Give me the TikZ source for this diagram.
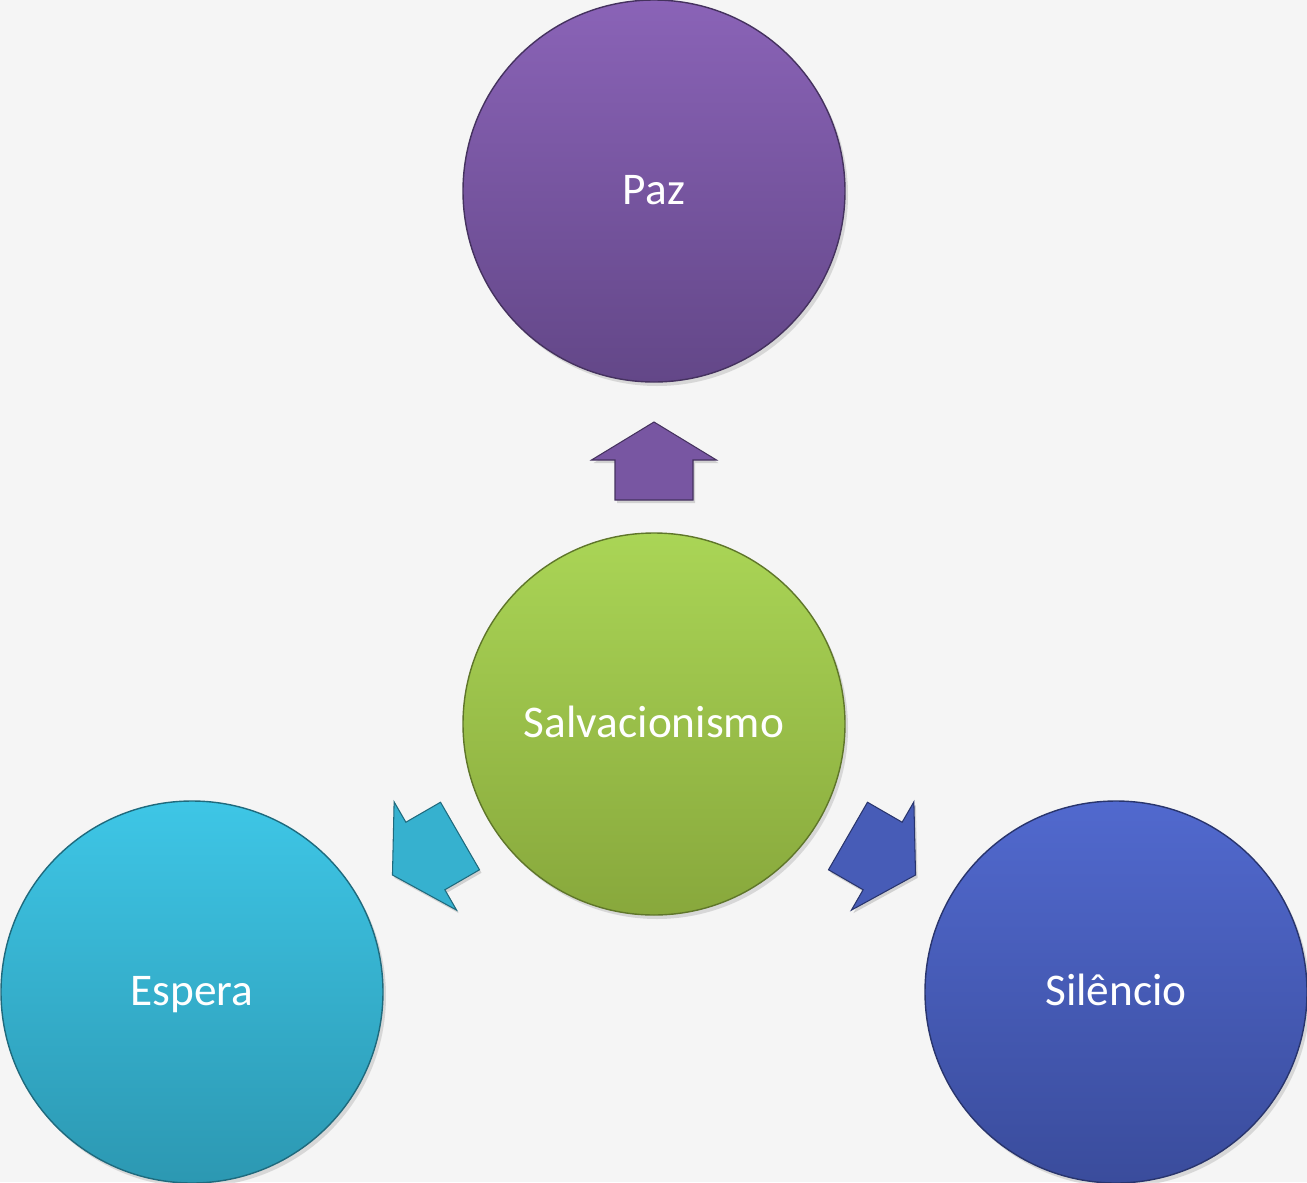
\documentclass[tikz,border=0pt]{standalone}
\usepackage{fontspec}
\setmainfont{Carlito}
\usetikzlibrary{shadows}
\definecolor{bg}{HTML}{F5F5F5}
\definecolor{pazT}{HTML}{8A63B7}
\definecolor{pazB}{HTML}{634788}
\definecolor{salT}{HTML}{AAD556}
\definecolor{salB}{HTML}{88A83C}
\definecolor{espT}{HTML}{3EC6E6}
\definecolor{espB}{HTML}{2C98B2}
\definecolor{silT}{HTML}{5169CE}
\definecolor{silB}{HTML}{3A4C9C}
\tikzset{
  bubble/.style={circle, minimum size=3.82cm, inner sep=0pt, draw=#1B!70!black, line width=0.4pt,
    top color=#1T, bottom color=#1B, text=white, font=\fontsize{12.9}{15}\selectfont,
    text height=1.9ex, text depth=0.35ex,
    drop shadow={shadow xshift=0.03cm, shadow yshift=-0.04cm, opacity=0.25}},
  blockarrow/.style={draw=#1B!70!black, line width=0.3pt, fill=#1T!55!#1B,
    drop shadow={shadow xshift=0.02cm, shadow yshift=-0.03cm, opacity=0.3}}
}
\begin{document}
\begin{tikzpicture}
\useasboundingbox (0,0) rectangle (13.07,11.82);
\fill[bg] (0,0) rectangle (13.07,11.82);
\begin{scope}
\clip (0,0) rectangle (13.07,11.82);
\node[bubble=paz] (paz) at (6.54,9.91) {Paz};
\node[bubble=sal] (sal) at (6.54,4.58) {Salvacionismo};
\node[bubble=esp] (esp) at (1.92,1.90) {Espera};
\node[bubble=sil] (sil) at (11.16,1.90) {Silêncio};
\end{scope}
\foreach \ang/\col in {90/paz, 210/esp, 330/sil}{
  \draw[blockarrow=\col, shift={(sal.center)}, rotate=\ang]
    (2.24,0.39) -- (2.64,0.39) -- (2.64,0.625) -- (3.02,0) -- (2.64,-0.625) -- (2.64,-0.39) -- (2.24,-0.39) -- cycle;
}
\end{tikzpicture}
\end{document}
